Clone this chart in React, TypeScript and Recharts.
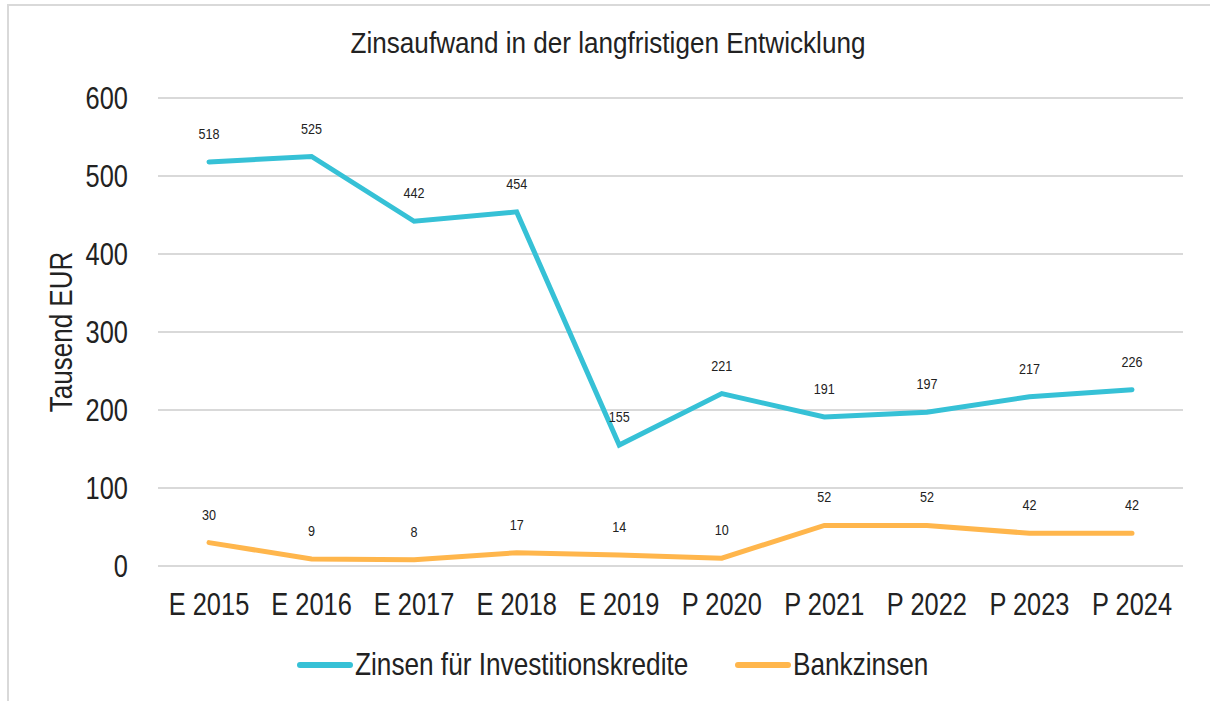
import React from 'react'
import { LineChart, Line, XAxis, YAxis, CartesianGrid, LabelList } from 'recharts'

const years = ['E 2015', 'E 2016', 'E 2017', 'E 2018', 'E 2019', 'P 2020', 'P 2021', 'P 2022', 'P 2023', 'P 2024']
const investitionskredite = [518, 525, 442, 454, 155, 221, 191, 197, 217, 226]
const bankzinsen = [30, 9, 8, 17, 14, 10, 52, 52, 42, 42]
const yTicks = [0, 100, 200, 300, 400, 500, 600]

const series = [
  { key: 'invest', name: 'Zinsen für Investitionskredite', color: '#36C1D6', legendX: 297 },
  { key: 'bank', name: 'Bankzinsen', color: '#FFB64C', legendX: 735 },
]

const data = years.map((year, i) => ({ year, invest: investitionskredite[i], bank: bankzinsen[i] }))

const FONT = '"Liberation Sans", Arial, sans-serif'
const TEXT = '#222'

// the original uses a condensed face, so squeeze Liberation Sans horizontally
function Narrow({ x, y, size, sx, anchor = 'middle', rotate = 0, children }: any) {
  return (
    <text
      transform={`translate(${x},${y}) rotate(${rotate}) scale(${sx},1)`}
      textAnchor={anchor}
      fontSize={size}
      fontFamily={FONT}
      fill={TEXT}
    >
      {children}
    </text>
  )
}

const XTick = ({ x, y, payload }: any) => (
  <Narrow x={x} y={y + 43} size={31} sx={0.82}>{payload.value}</Narrow>
)

const YTick = ({ x, y, payload }: any) => (
  <Narrow x={x} y={y + 11} size={31} sx={0.82} anchor="end">{payload.value}</Narrow>
)

const YLabel = ({ viewBox }: any) => (
  <Narrow x={72} y={viewBox.y + viewBox.height / 2} size={31} sx={0.84} rotate={-90}>Tausend EUR</Narrow>
)

const ValueLabel = ({ x, y, value }: any) => (
  <Narrow x={x} y={y - 23} size={15} sx={0.84}>{value}</Narrow>
)

export default function App() {
  return (
    <div style={{ position: 'absolute', left: 0, top: 0, width: 1210, height: 701, background: '#fff', fontFamily: FONT, overflow: 'hidden' }}>
      {/* outer frame, cut off at right and bottom */}
      <div style={{ position: 'absolute', left: 7, top: 4, width: 1220, height: 720, border: '2px solid #d9d9d9', boxSizing: 'border-box' }} />
      <div style={{ position: 'absolute', left: 0, top: 0 }}>
        <LineChart width={1210} height={701} data={data} margin={{ top: 98, right: 27, bottom: 105, left: 0 }}>
          <text x={608} y={53} textAnchor="middle" fontSize={29} fontFamily={FONT} fill={TEXT} transform="translate(608,0) scale(0.9,1) translate(-608,0)">
            Zinsaufwand in der langfristigen Entwicklung
          </text>
          <CartesianGrid vertical={false} stroke="#d9d9d9" strokeWidth={2} />
          <XAxis
            dataKey="year"
            axisLine={false}
            tickLine={false}
            tickMargin={0}
            padding={{ left: 51, right: 51 }}
            tick={<XTick />}
          />
          <YAxis
            domain={[0, 600]}
            ticks={yTicks}
            width={158}
            axisLine={false}
            tickLine={false}
            tickMargin={24}
            tick={<YTick />}
            label={<YLabel />}
          />
          {series.map((s) => (
            <Line
              key={s.key}
              dataKey={s.key}
              name={s.name}
              stroke={s.color}
              strokeWidth={5}
              strokeLinecap="round"
              strokeLinejoin="miter"
              dot={false}
              activeDot={false}
              isAnimationActive={false}
            >
              <LabelList dataKey={s.key} content={<ValueLabel />} />
            </Line>
          ))}
          {series.map((s) => (
            <g key={s.key + '-legend'}>
              <line x1={s.legendX + 3} x2={s.legendX + 53} y1={665} y2={665} stroke={s.color} strokeWidth={6} strokeLinecap="round" />
              <Narrow x={s.legendX + 58} y={675} size={31} sx={0.845} anchor="start">{s.name}</Narrow>
            </g>
          ))}
        </LineChart>
      </div>
    </div>
  )
}
